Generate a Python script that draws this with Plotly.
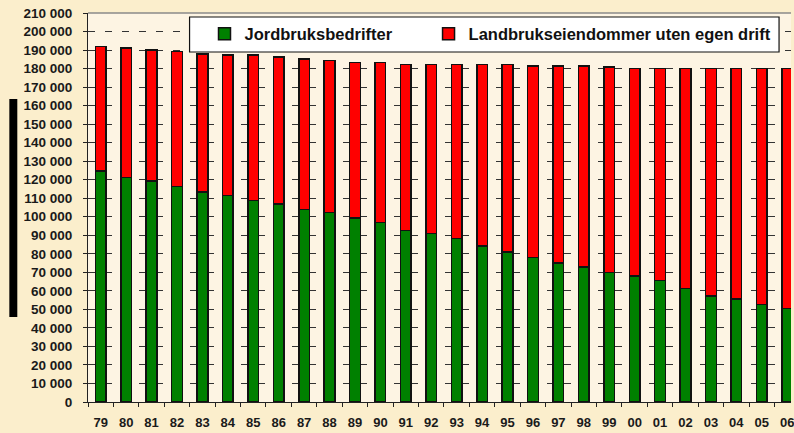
import plotly.graph_objects as go

years = ["79", "80", "81", "82", "83", "84", "85", "86", "87", "88", "89", "90",
         "91", "92", "93", "94", "95", "96", "97", "98", "99", "00", "01", "02",
         "03", "04", "05", "06"]

# Jordbruksbedrifter (active farms)
jordbruk = [124800, 121100, 119300, 116300, 113400, 111600, 108800, 107000,
            104000, 102300, 99300, 96900, 92700, 90900, 88200, 84100, 80900,
            78100, 75100, 72800, 70000, 68100, 65600, 61300, 57100, 55500,
            52700, 50500]

# Totals (all agricultural properties)
totals = [191900, 191000, 190000, 189100, 188000, 187200, 187200, 186300,
          185200, 184400, 183300, 183300, 182200, 182200, 182200, 182200,
          182200, 181300, 181300, 181300, 180800, 180000, 180000, 180000,
          180000, 180000, 180000, 180000]

# Landbrukseiendommer uten egen drift = total - active
uten_drift = [t - j for t, j in zip(totals, jordbruk)]

y_tick_values = [0, 10000, 20000, 30000, 40000, 50000, 60000, 70000, 80000,
                 90000, 100000, 110000, 120000, 130000, 140000, 150000, 160000,
                 170000, 180000, 190000, 200000, 210000]
y_tick_labels = ["0", "10 000", "20 000", "30 000", "40 000", "50 000",
                 "60 000", "70 000", "80 000", "90 000", "100 000", "110 000",
                 "120 000", "130 000", "140 000", "150 000", "160 000",
                 "170 000", "180 000", "190 000", "200 000", "210 000"]

FONT = "Liberation Sans, Arial, sans-serif"

W, H = 794, 433
L, R, T, B = 88, 0, 13, 31
pw, ph = W - L - R, H - T - B


def px_x(x):
    return (x - L) / pw


def px_y(y):
    return (H - B - y) / ph


fig = go.Figure()
fig.add_trace(go.Bar(
    x=years, y=jordbruk, name="Jordbruksbedrifter",
    marker=dict(color="#008000", line=dict(color="#111111", width=1.5)),
    width=0.42, legend="legend",
))
fig.add_trace(go.Bar(
    x=years, y=uten_drift, name="Landbrukseiendommer uten egen drift",
    marker=dict(color="#FF0000", line=dict(color="#111111", width=1.5)),
    width=0.42, legend="legend2",
))

legend_font = dict(family=FONT, size=16.5, color="#111111", weight="bold")

fig.update_layout(
    width=W, height=H,
    margin=dict(l=L, r=R, t=T, b=B, pad=0),
    barmode="stack",
    paper_bgcolor="#FBEECC",
    plot_bgcolor="#FDF4E3",
    font=dict(family=FONT, color="#1a1a1a"),
    showlegend=True,
    legend=dict(
        orientation="h",
        x=px_x(205), y=px_y(34), xanchor="left", yanchor="middle",
        bgcolor="rgba(0,0,0,0)", font=legend_font, itemwidth=30,
    ),
    legend2=dict(
        orientation="h",
        x=px_x(430), y=px_y(34), xanchor="left", yanchor="middle",
        bgcolor="rgba(0,0,0,0)", font=legend_font, itemwidth=30,
    ),
    xaxis=dict(
        type="category",
        range=[-0.5, 27.15],
        showline=True, linecolor="#222222", linewidth=1,
        ticks="outside", ticklen=4, tickcolor="#222222",
        tickson="boundaries",
        showgrid=False,
        tickfont=dict(family=FONT, size=13, color="#1a1a1a", weight="bold"),
        ticklabelstandoff=8,
        fixedrange=True,
    ),
    yaxis=dict(
        range=[0, 210000],
        tickvals=y_tick_values, ticktext=y_tick_labels,
        showline=True, linecolor="#222222", linewidth=1,
        ticks="outside", ticklen=4, tickcolor="#222222",
        showgrid=True, gridcolor="#333333", gridwidth=1, griddash="7px,10px",
        zeroline=False,
        tickfont=dict(family=FONT, size=13.5, color="#1a1a1a", weight="bold"),
        ticklabelstandoff=8,
        fixedrange=True,
    ),
    shapes=[
        # top border of plot area
        dict(type="line", xref="paper", yref="paper", x0=0, x1=1, y0=1, y1=1,
             line=dict(color="#8a8a8a", width=1.5)),
        # legend box
        dict(type="rect", xref="paper", yref="paper",
             x0=px_x(190), x1=px_x(782), y0=px_y(52), y1=px_y(17),
             fillcolor="white", line=dict(color="#111111", width=1.2),
             layer="above"),
        # black vertical block at far left
        dict(type="rect", xref="paper", yref="paper",
             x0=px_x(9), x1=px_x(17), y0=px_y(317), y1=px_y(99),
             fillcolor="black", line=dict(width=0)),
    ],
)

fig.write_html(
    "out.html",
    config={"displayModeBar": False},
    post_script="document.body.style.margin='0';document.body.style.padding='0';",
)
